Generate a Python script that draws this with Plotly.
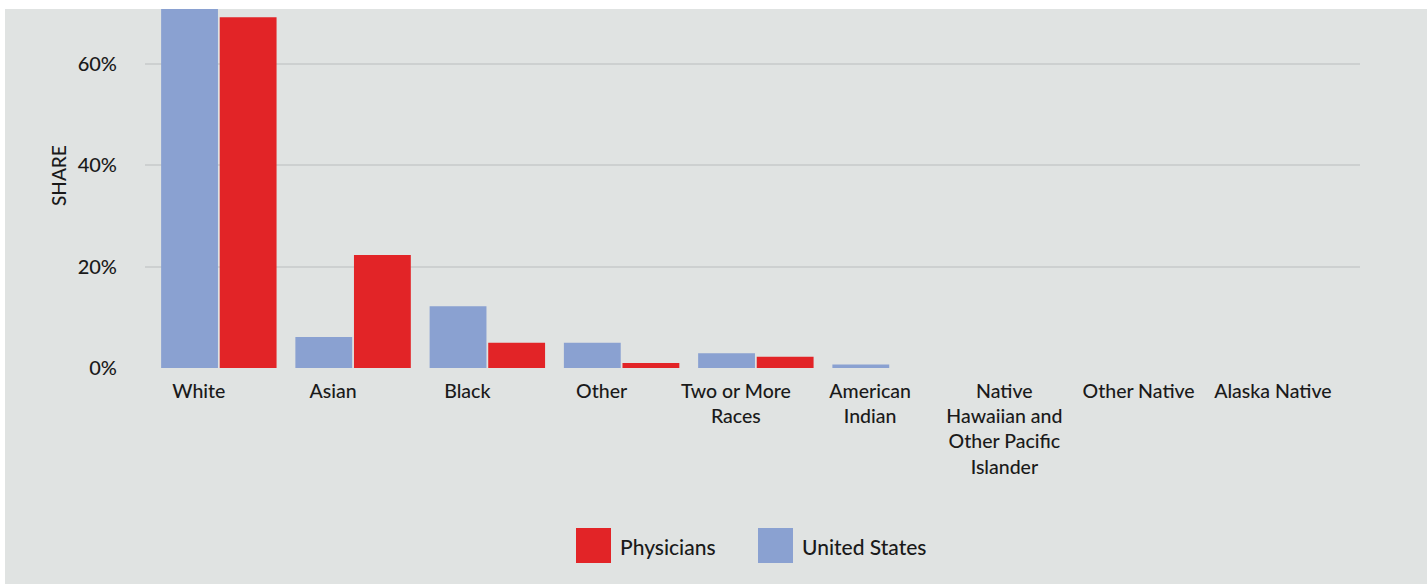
import plotly.graph_objects as go

categories = ["White", "Asian", "Black", "Other", "Two or More<br>Races", "American<br>Indian",
              "Native<br>Hawaiian and<br>Other Pacific<br>Islander", "Other Native", "Alaska Native"]
us_share = [72.5, 6.1, 12.2, 5.0, 2.9, 0.7, 0.0, 0.0, 0.0]
physicians_share = [69.2, 22.3, 5.0, 1.0, 2.2, 0.0, 0.0, 0.0, 0.0]
y_ticks = [0, 20, 40, 60]
y_tick_labels = ["0%", "20%", "40%", "60%"]

BLUE = "#8aa1d1"
RED = "#e22427"
BG = "#e0e3e2"
FONT = "Lato"
TXT = "#1a1a1a"

W, H = 1427, 584
ML, MR, MT, MB = 145, 67, 9, 216
pw = W - ML - MR
ph = H - MT - MB

fig = go.Figure()
fig.add_trace(go.Bar(x=list(range(len(categories))), y=us_share, name="United States",
                     marker=dict(color=BLUE, line=dict(width=0)), showlegend=False))
fig.add_trace(go.Bar(x=list(range(len(categories))), y=physicians_share, name="Physicians",
                     marker=dict(color=RED, line=dict(width=0)), showlegend=False))

def px_x(x):
    return (x - ML) / pw

def px_y(y):
    return (H - MB - y) / ph

shapes = [
    dict(type="rect", xref="paper", yref="paper", x0=px_x(5), x1=px_x(W + 5), y0=px_y(H + 5), y1=px_y(9),
         fillcolor=BG, line=dict(width=0), layer="below"),
]
annotations = [
    dict(text="SHARE", xref="paper", yref="paper", x=px_x(58), y=px_y(176), textangle=-90,
         xanchor="center", yanchor="middle", showarrow=False,
         font=dict(family=FONT, size=19, color=TXT, weight=500)),
]
legend_items = [("Physicians", RED, 576), ("United States", BLUE, 758)]
for name, color, x0 in legend_items:
    shapes.append(dict(type="rect", xref="paper", yref="paper", x0=px_x(x0), x1=px_x(x0 + 35),
                       y0=px_y(563), y1=px_y(528), fillcolor=color, line=dict(width=0)))
    annotations.append(dict(text=name, xref="paper", yref="paper", x=px_x(x0 + 42), y=px_y(546),
                            xanchor="left", yanchor="middle", showarrow=False,
                            font=dict(family=FONT, size=21, color=TXT, weight=500)))

fig.update_layout(
    width=W, height=H,
    margin=dict(l=ML, r=MR, t=MT, b=MB),
    paper_bgcolor="white",
    plot_bgcolor="rgba(0,0,0,0)",
    barmode="group",
    bargap=0.127,
    bargroupgap=0.03,
    showlegend=False,
    shapes=shapes,
    annotations=annotations,
    font=dict(family=FONT, size=19.5, color=TXT),
    xaxis=dict(
        range=[-0.55, 8.5],
        tickmode="array",
        tickvals=list(range(len(categories))),
        ticktext=categories,
        showgrid=False,
        zeroline=False,
        showline=False,
        ticks="",
        ticklabelshift=-20,
        ticklabelstandoff=9,
        tickfont=dict(family=FONT, size=19.5, color=TXT, weight=500),
        tickangle=0,
    ),
    yaxis=dict(
        range=[0, 70.84],
        tickmode="array",
        tickvals=y_ticks,
        ticktext=y_tick_labels,
        showgrid=True,
        gridcolor="#cdd0d0",
        gridwidth=2,
        zeroline=False,
        showline=False,
        ticks="",
        ticklabelstandoff=27,
        tickfont=dict(family=FONT, size=20, color=TXT, weight=500),
    ),
)

fig.write_html("out.html")
